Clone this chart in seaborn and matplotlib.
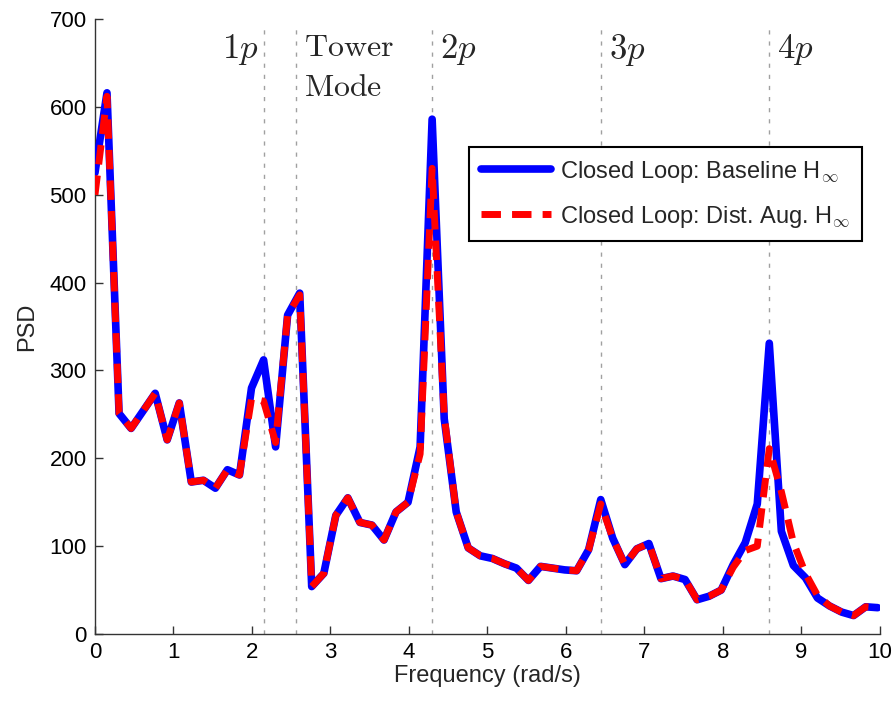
import matplotlib
matplotlib.use("Agg")
import matplotlib.pyplot as plt
import seaborn as sns
import pandas as pd

# frequency grid (rad/s) and PSD values
freq = [0.000, 0.153, 0.307, 0.460, 0.614, 0.767, 0.920, 1.074, 1.227, 1.381,
        1.534, 1.687, 1.841, 1.994, 2.148, 2.301, 2.454, 2.608, 2.761, 2.915,
        3.068, 3.221, 3.375, 3.528, 3.682, 3.835, 3.988, 4.142, 4.295, 4.449,
        4.602, 4.755, 4.909, 5.062, 5.216, 5.369, 5.522, 5.676, 5.829, 5.983,
        6.136, 6.289, 6.443, 6.596, 6.750, 6.903, 7.056, 7.210, 7.363, 7.517,
        7.670, 7.823, 7.977, 8.130, 8.284, 8.437, 8.590, 8.744, 8.897, 9.051,
        9.204, 9.357, 9.511, 9.664, 9.818, 9.971]

psd_baseline = [525, 616, 251, 234, 254, 274, 221, 263, 173, 175,
                166, 187, 181, 280, 312, 213, 363, 388, 54, 69,
                135, 155, 127, 124, 107, 139, 150, 213, 586, 245,
                139, 98, 89, 86, 80, 75, 61, 77, 75, 73,
                72, 96, 153, 109, 79, 97, 103, 63, 66, 62,
                39, 43, 50, 79, 104, 148, 331, 117, 78, 64,
                41, 32, 25, 21, 31, 30]

psd_dist_aug = [500, 612, 251, 234, 254, 274, 221, 263, 173, 175,
                166, 187, 181, 268, 265, 218, 363, 386, 54, 69,
                135, 155, 127, 124, 107, 139, 150, 205, 530, 248,
                139, 98, 89, 86, 80, 75, 61, 77, 75, 73,
                72, 96, 148, 109, 79, 97, 103, 63, 66, 62,
                39, 43, 50, 76, 95, 100, 211, 162, 104, 69,
                44, 32, 25, 21, 31, 30]

# harmonic / mode markers
marker_freq = [2.148, 2.56, 4.295, 6.443, 8.590]

df = pd.DataFrame({"freq": freq, "base": psd_baseline, "dist": psd_dist_aug})

sns.set_style("white")
plt.rcParams["font.family"] = ["Liberation Sans", "DejaVu Sans"]
plt.rcParams["mathtext.fontset"] = "cm"

fig = plt.figure(figsize=(8.96, 7.04), dpi=100)
ax = fig.add_axes([0.106, 0.0994, 0.8761, 0.8736])

# dotted vertical marker lines
for f in marker_freq:
    ax.axvline(f, ymax=0.985, color="#a0a0a0", linewidth=1.0,
               linestyle=(0, (3, 5)), zorder=1)

sns.lineplot(data=df, x="freq", y="base", ax=ax, color="#0000ff", linewidth=5.5,
             label=r"Closed Loop: Baseline H$_\infty$", zorder=3,
             solid_joinstyle="round", solid_capstyle="round")
sns.lineplot(data=df, x="freq", y="dist", ax=ax, color="#ff0000", linewidth=5.0,
             linestyle=(0, (2.8, 1.6)), label=r"Closed Loop: Dist. Aug. H$_\infty$",
             zorder=4)

ax.set_xlim(0, 10)
ax.set_ylim(0, 700)
ax.set_xticks(range(0, 11))
ax.set_yticks(range(0, 701, 100))
ax.tick_params(direction="in", length=6, width=1, colors="#333333",
               labelcolor="black", labelsize=16, pad=6,
               bottom=True, left=True, top=False, right=False)
for side in ["top", "right"]:
    ax.spines[side].set_visible(False)
for side in ["left", "bottom"]:
    ax.spines[side].set_color("#333333")
    ax.spines[side].set_linewidth(1.0)

ax.set_xlabel("Frequency (rad/s)", fontsize=17, labelpad=1)
ax.set_ylabel("PSD", fontsize=17, labelpad=8)

# annotations
ax.text(2.148 - 0.06, 665, r"$1p$", fontsize=25, ha="right", va="center")
ax.text(2.56 + 0.1, 684, "$\\mathrm{Tower}$\n$\\mathrm{Mode}$", fontsize=23,
        ha="left", va="top", linespacing=1.45)
ax.text(4.295 + 0.1, 665, r"$2p$", fontsize=25, ha="left", va="center")
ax.text(6.443 + 0.1, 665, r"$3p$", fontsize=25, ha="left", va="center")
ax.text(8.590 + 0.1, 665, r"$4p$", fontsize=25, ha="left", va="center")

leg = ax.legend(loc="upper right", bbox_to_anchor=(0.977, 0.792), fontsize=17,
                frameon=True, fancybox=False, handlelength=3.0,
                handletextpad=0.35, labelspacing=0.8, borderpad=0.5,
                borderaxespad=0)
leg.get_frame().set_edgecolor("black")
leg.get_frame().set_linewidth(1.5)
leg.get_frame().set_alpha(1.0)

fig.savefig("out.png", dpi=100)
